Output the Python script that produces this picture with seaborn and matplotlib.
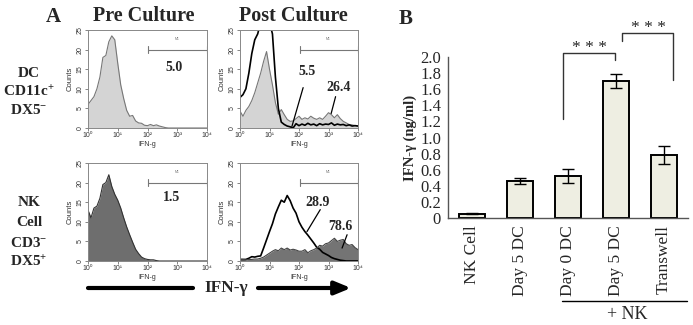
import numpy as np
import pandas as pd
import matplotlib
matplotlib.use('Agg')
import matplotlib.pyplot as plt
from matplotlib.patches import FancyArrowPatch
import seaborn as sns

# flow histograms: counts per channel, channel = log10(IFN-g) from 10^0 to 10^4
log_ifn = np.round(np.arange(0, 4.01, 0.1), 1)

dc_pre = [6, 7, 8, 10, 13, 18, 18.5, 22, 23.5, 22.5, 16.5, 11, 7.5, 4.5, 3, 3.2, 1.8, 1.3, 1.2, 0.7,
          0.6, 0.9, 0.6, 0.8, 0.5, 0.3, 0.1, 0, 0, 0, 0, 0, 0, 0, 0, 0, 0, 0, 0, 0, 0]
dc_post_gray = [4.3, 3.0, 4.5, 5.5, 7.0, 9.0, 11.5, 14, 17, 19.5, 15, 11, 6.5, 3.5, 4.7, 3.4, 2.2, 1.7, 1.8, 2.4,
                3.0, 2.2, 2.6, 2.3, 3.0, 2.5, 2.2, 2.6, 2.2, 3.0, 3.9, 3.4, 2.6, 3.4, 2.4, 1.7, 1.3, 0.9, 0.8, 0.6, 0.5]
dc_post_black = [7.8, 8.5, 10, 14, 19, 22.5, 24, 27, 29, 28, 27, 24, 13, 5, 1.5, 0.9, 0.5, 0.3, 0, 1.1,
                 0.6, 1.0, 0.7, 1.2, 0.8, 1.0, 0.6, 1.1, 0.8, 1.0, 0.9, 1.3, 0.7, 1.0, 0.8, 0.9, 0.6, 0.8, 0.5, 0.6, 0.5]
nk_pre = [13, 11, 13.5, 14, 16, 19.5, 20, 22, 19, 17, 15.5, 13.5, 11, 8.7, 6.7, 4.8, 3.0, 1.9, 1.0, 0.6,
          0.4, 0.3, 0.3, 0.1, 0, 0, 0, 0, 0, 0, 0, 0, 0, 0, 0, 0, 0, 0, 0, 0, 0]
nk_post_black = [0.4, 0.4, 0.4, 0.7, 1.1, 1.0, 1.2, 1.3, 3.3, 5.4, 7.5, 9.5, 12, 13.8, 15.5, 15, 16.7, 15.4, 13.5, 12.2,
                 10, 8.6, 7.5, 6.6, 5.6, 4.6, 3.5, 3.0, 2.2, 1.8, 1.4, 0.9, 0.6, 0.4, 0.2, 0.1, 0, 0, 0, 0, 0]
nk_post_gray = [0.4, 0.4, 0.3, 0.4, 0.4, 0.5, 0.5, 0.7, 1.0, 1.5, 2.0, 2.5, 2.9, 2.6, 3.3, 2.9, 3.3, 2.8, 3.0, 2.8,
                2.5, 2.5, 2.9, 2.1, 2.6, 2.9, 3.3, 4.0, 3.8, 4.4, 4.6, 5.2, 5.8, 5.0, 5.3, 5.5, 4.4, 4.0, 4.2, 3.4, 2.9]
decade_labels = ['10\u2070', '10\u00b9', '10\u00b2', '10\u00b3', '10\u2074']

# bar chart
bar_keys = ['NK Cell', 'Day 5 DC', 'Day 0 DC + NK', 'Day 5 DC + NK', 'Transwell + NK']
bar_labels = ['NK Cell', 'Day 5 DC', 'Day 0 DC', 'Day 5 DC', 'Transwell']
ifn_mean = [0.055, 0.46, 0.52, 1.70, 0.78]
ifn_err = [0.01, 0.035, 0.09, 0.09, 0.11]

sns.set_style('white')
plt.rcParams['font.family'] = ['Liberation Serif', 'DejaVu Serif']
plt.rcParams['mathtext.fontset'] = 'custom'
plt.rcParams['mathtext.rm'] = 'Liberation Serif:bold'
plt.rcParams['mathtext.bf'] = 'Liberation Serif:bold'
plt.rcParams['mathtext.it'] = 'Liberation Serif:bold'

W, H = 693, 325
fig = plt.figure(figsize=(W / 100, H / 100), dpi=100)
sans = ['Liberation Sans', 'DejaVu Sans']


def px(x, y):
    return x / W, 1 - y / H


def hist_axes(x0, y0, x1, y1):
    ax = fig.add_axes([x0 / W, 1 - y1 / H, (x1 - x0) / W, (y1 - y0) / H])
    ax.set_xlim(0, 4)
    ax.set_ylim(0, 25)
    ax.set_xticks(range(5))
    ax.set_xticklabels(decade_labels, family=sans)
    ax.set_yticks(range(0, 26, 5))
    ax.set_yticklabels([str(v) for v in range(0, 26, 5)], rotation=90, va='center', family=sans)
    ax.tick_params(labelsize=5, length=2, width=0.5, pad=1, colors='#555', labelcolor='#333',
                   bottom=True, left=True)
    for s in ax.spines.values():
        s.set_color('#888')
        s.set_linewidth(0.7)
    ax.set_xlabel('IFN-g', fontsize=5, labelpad=1, family=sans, color='#333')
    ax.set_ylabel('Counts', fontsize=5.5, labelpad=2, family=sans, color='#333')
    # marker gate
    ax.plot([2.02, 4.0], [20, 20], color='#777', lw=0.8)
    ax.plot([2.02, 2.02], [19.2, 20.8], color='#777', lw=0.8)
    ax.plot([4.0, 4.0], [19.2, 20.8], color='#777', lw=0.8)
    ax.text(3.0, 22.6, 'M1', fontsize=2.5, ha='center', va='center', color='#777', family=sans)
    return ax


def filled(ax, y, fill, edge, lw=0.8):
    ax.fill_between(log_ifn, y, color=fill, lw=0)
    sns.lineplot(x=log_ifn, y=y, ax=ax, color=edge, lw=lw, estimator=None)


bold = dict(fontweight='bold', ha='center', va='center')

ax1 = hist_axes(88, 30, 207, 128)
filled(ax1, dc_pre, '#d4d4d4', '#777')
ax1.text(2.9, 15.5, '5.0', fontsize=10, **bold)

ax2 = hist_axes(240, 30, 358, 128)
filled(ax2, dc_post_gray, '#d4d4d4', '#777')
sns.lineplot(x=log_ifn, y=dc_post_black, ax=ax2, color='black', lw=1.2, estimator=None)
ax2.text(2.27, 14.5, '5.5', fontsize=10, **bold)
ax2.plot([2.14, 1.76], [10.3, 0.4], color='black', lw=0.9)
ax2.text(3.35, 10.3, '26.4', fontsize=10, **bold)
ax2.plot([3.24, 3.09], [8, 3.7], color='black', lw=0.9)

ax3 = hist_axes(88, 163, 207, 261)
filled(ax3, nk_pre, '#6e6e6e', '#333')
ax3.text(2.81, 16.3, '1.5', fontsize=10, **bold)

ax4 = hist_axes(240, 163, 358, 261)
ax4.fill_between(log_ifn, nk_post_black, color='white', lw=0)
sns.lineplot(x=log_ifn, y=nk_post_black, ax=ax4, color='black', lw=1.2, estimator=None)
filled(ax4, nk_post_gray, '#747474', '#444')
ax4.text(2.64, 15, '28.9', fontsize=10, **bold)
ax4.plot([2.72, 2.27], [13.1, 7.5], color='black', lw=0.9)
ax4.text(3.4, 8.9, '78.6', fontsize=10, **bold)
ax4.plot([3.63, 3.46], [6.7, 3.3], color='black', lw=0.9)

# panel A text
fig.text(*px(53, 17), 'A', fontsize=15, **bold)
fig.text(*px(144, 16), 'Pre Culture', fontsize=14.5, **bold)
fig.text(*px(293, 16), 'Post Culture', fontsize=14.5, **bold)
for label, y in zip(['DC', 'CD11c$^{+}$', 'DX5$^{-}$'], [73, 92, 110]):
    fig.text(*px(29, y), label, fontsize=11, **bold)
for label, y in zip(['NK', 'Cell', 'CD3$^{-}$', 'DX5$^{+}$'], [203, 223, 243, 262]):
    fig.text(*px(29, y), label, fontsize=11, **bold)

fig.add_artist(plt.Line2D([88 / W, 193 / W], [1 - 288 / H] * 2, color='black', lw=3))
fig.text(*px(226, 288), 'IFN-\u03b3', fontsize=12.5, **bold)
fig.add_artist(FancyArrowPatch(px(258, 288), px(351, 288), transform=fig.transFigure,
                               arrowstyle='-|>,head_length=0.8,head_width=0.33', mutation_scale=12,
                               lw=3, color='black', shrinkA=0, shrinkB=0))

# panel B
axb = fig.add_axes([448 / W, 1 - 218 / H, 240 / W, 161 / H])
df = pd.DataFrame({'group': bar_keys, 'ifn': ifn_mean})
sns.barplot(data=df, x='group', y='ifn', order=bar_keys, color='#eeeee2', edgecolor='black',
            linewidth=1.4, width=0.56, errorbar=None, saturation=1, ax=axb)
axb.errorbar(range(len(bar_keys)), ifn_mean, yerr=ifn_err, fmt='none', ecolor='black',
             elinewidth=1, capsize=4, capthick=1)
axb.set_xlim(-0.5, 4.5)
axb.set_ylim(0, 2.0)
axb.set_yticks(np.round(np.arange(0, 2.01, 0.2), 1))
axb.set_yticklabels(['0'] + ['%.1f' % v for v in np.arange(0.2, 2.01, 0.2)], fontsize=12)
axb.set_xticks(range(len(bar_keys)))
axb.set_xticklabels(bar_labels, rotation=90, fontsize=12.5, va='top')
axb.set_xticks(np.arange(-0.5, 4.6, 1), minor=True)
axb.tick_params(axis='x', which='major', length=0, pad=5)
axb.tick_params(axis='x', which='minor', length=3, width=1, direction='out', color='#555')
axb.tick_params(axis='y', length=4, width=1, direction='out', color='#555', pad=1)
axb.set_xlabel('')
axb.set_ylabel('IFN-\u03b3 (ng/ml)', fontsize=10.5, fontweight='bold', labelpad=2)
sns.despine(ax=axb)
for s in ('left', 'bottom'):
    axb.spines[s].set_color('#555')
    axb.spines[s].set_linewidth(1)

axb.plot([1.89, 1.89, 2.98, 2.98], [1.23, 2.05, 2.05, 1.96], color='#333', lw=1, clip_on=False)
axb.text(2.44, 2.11, '* * *', fontsize=12.5, ha='center', va='center')
axb.plot([3.12, 3.12, 4.19, 4.19], [2.20, 2.30, 2.30, 1.71], color='#333', lw=1, clip_on=False)
axb.text(3.67, 2.36, '* * *', fontsize=12.5, ha='center', va='center')

axb.plot([1.87, 4.48], [-0.516, -0.516], color='black', lw=1, clip_on=False,
         transform=axb.get_xaxis_transform())
axb.text(3.23, -0.6, '+ NK', fontsize=13, ha='center', va='center', transform=axb.get_xaxis_transform())
fig.text(*px(406, 19), 'B', fontsize=15, **bold)

fig.savefig('out.png', dpi=100)
